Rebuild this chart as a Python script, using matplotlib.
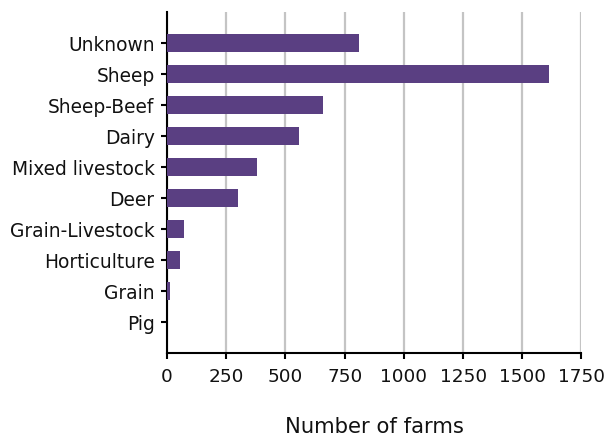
import matplotlib.pyplot as plt

# farm counts by farm type
farm_types = ["Unknown", "Sheep", "Sheep-Beef", "Dairy", "Mixed livestock",
              "Deer", "Grain-Livestock", "Horticulture", "Grain", "Pig"]
farm_counts = [810, 1612, 660, 556, 380, 300, 72, 55, 12, 2]
x_ticks = [0, 250, 500, 750, 1000, 1250, 1500, 1750]

plt.rcParams['font.family'] = ['DejaVu Sans']

fig = plt.figure(figsize=(6.08, 4.37), dpi=100)
ax = fig.add_axes([0.2747, 0.1922, 0.6817, 0.7803])

ypos = list(range(len(farm_types)))
ax.barh(ypos, farm_counts, height=0.57, color="#5a3f82", zorder=3)

ax.set_xlim(0, 1750)
ax.set_ylim(10, -1)
ax.set_yticks(ypos)
ax.set_yticklabels(farm_types, fontsize=13.4, color="#111111")
ax.set_xticks(x_ticks)
ax.set_xticklabels([str(t) for t in x_ticks], fontsize=13.3, color="#111111")

ax.xaxis.grid(True, color="#c4c4c4", linewidth=1.6, zorder=0)
ax.set_axisbelow(True)
for side in ("top", "right"):
    ax.spines[side].set_visible(False)
for side in ("left", "bottom"):
    ax.spines[side].set_linewidth(1.5)
    ax.spines[side].set_color("black")
ax.tick_params(axis="y", direction="out", length=4, width=1.5, pad=5)
ax.tick_params(axis="x", direction="out", length=4, width=1.5, pad=7)

ax.set_xlabel("Number of farms", fontsize=15.2, color="#111111", labelpad=22)

fig.savefig("out.png", dpi=100)
